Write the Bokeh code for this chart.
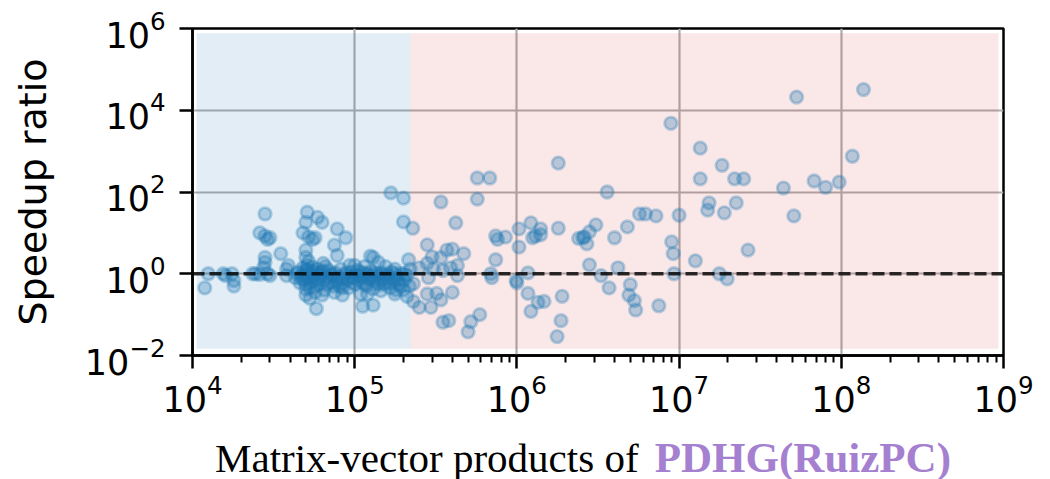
from bokeh.plotting import figure
from bokeh.models import FixedTicker, LogTickFormatter, Span, ColumnDataSource, Div
from bokeh.layouts import column
from bokeh.embed import file_html
from bokeh.resources import INLINE

# ---- data: matrix-vector products (x) and speedup ratio (y) ----
x_high = [5.3e7, 1.37e8, 8.9e6, 1.35e7, 1.84e7, 1.35e7, 2.2e7, 2.5e7, 4.4e7, 6.8e7,
          8.0e7, 9.7e7, 1.17e8, 1.53e7, 1.5e7, 1.9e7, 2.25e7, 5.1e7, 7.2e6, 1.0e7,
          9.0e6, 9.2e6, 1.26e7, 2.66e7, 9.3e6, 1.77e7, 1.98e7, 7.5e6]
y_high = [2.1e4, 3.2e4, 4.8e3, 1.18e3, 4.5e2, 2.1e2, 2.1e2, 2.1e2, 1.25e2, 1.86e2,
          1.3e2, 1.75e2, 7.5e2, 54, 36, 31, 54, 26, 26, 27,
          6.0, 3.1, 2.07, 3.8, 1.0, 1.0, 0.75, 0.165]

x_mid = [1.8e6, 5.7e5, 6.8e5, 3.6e6, 5.7e5, 3.4e5, 2.0e5, 2.0e5, 2.28e5, 4.2e5,
         1.03e6, 1.22e6, 1.4e6, 1.8e6, 1.3e6, 1.25e6, 1.4e6, 3.07e6, 2.8e6, 2.6e6,
         2.4e6, 2.7e6, 2.55e6, 4.8e6, 4.0e6, 5.7e6, 6.2e6, 7.4e5, 7.6e5, 8.5e5,
         1.03e6, 2.8e5, 7.4e5, 4.7e5, 3.7e5, 4.0e5, 3.4e5, 3.0e5, 2.15e5, 4.3e5,
         3.9e5, 2.5e5, 2.8e5, 3.05e5, 3.5e5, 6.9e5, 7.0e5, 1.17e6, 9.9e5, 1.0e6,
         2.3e5, 2.85e5, 4.3e5, 3.3e6, 4.2e6, 2.8e6, 3.7e6, 5.0e6, 4.9e6, 5.3e6,
         5.4e6, 1.17e6, 1.35e6, 1.47e6, 1.22e6, 1.9e6, 1.87e6, 1.77e6, 2.3e5, 2.5e5,
         2.95e5, 2.8e5, 3.2e5, 3.4e5, 4.0e5, 3.5e5, 3.8e5, 5.2e5, 5.9e5, 5.0e5]
y_mid = [5.1e2, 2.2e2, 2.2e2, 1.0e2, 67, 57, 71, 18.5, 13, 17.6,
         12.5, 17.6, 12.5, 13, 8.4, 7.6, 9.0, 15.7, 10.6, 8.0,
         7.3, 5.4, 7.6, 14, 7.6, 29, 29, 8.4, 6.9, 7.9,
         4.5, 5.1, 2.2, 3.1, 3.8, 4.0, 2.5, 2.6, 2.2, 1.6,
         1.4, 1.4, 1.8, 1.3, 1.2, 1.0, 0.8, 1.05, 0.68, 0.6,
         0.57, 0.8, 0.9, 0.9, 1.4, 1.65, 0.45, 0.54, 0.3, 0.22,
         0.13, 0.33, 0.2, 0.21, 0.12, 0.28, 0.071, 0.029, 0.21, 0.15,
         0.15, 0.32, 0.33, 0.23, 0.35, 0.065, 0.071, 0.067, 0.10, 0.038]

x_low = [1.67e5, 2.8e4, 2.6e4, 2.8e4, 2.9e4, 3.0e4, 2.8e4, 2.8e4, 2.75e4, 3.5e4,
         3.9e4, 3.8e4, 5.1e4, 5.0e4, 4.8e4, 5.2e4, 5.7e4, 5.9e4, 6.3e4, 5.0e4,
         5.0e4, 6.4e4, 7.8e4, 8.8e4, 7.5e4, 7.8e4, 5.0e4, 5.8e4, 1.12e5, 1.3e5,
         1.3e5, 1.4e5, 1.19e4, 1.25e4, 1.55e4, 1.75e4, 1.8e4, 1.8e4, 2.35e4, 2.9e4,
         3.8e4, 5.0e4, 8.4e4, 1.09e5, 1.77e5, 1.8e5, 1.6e4, 2.45e4, 2.6e4, 3.0e4,
         5.5e4, 1.25e5, 1.0e5, 1.77e5, 1.3e5, 8.4e4]
y_low = [95, 29, 10, 8.4, 6.9, 7.6, 2.5, 1.9, 1.4, 3.1,
         1.6, 0.9, 32, 18, 10, 8.0, 7.6, 24, 18, 3.8,
         2.5, 1.8, 12.5, 7.6, 5.0, 2.8, 0.3, 0.14, 0.16, 0.17,
         2.5, 1.9, 0.45, 1.0, 1.0, 1.0, 0.68, 0.5, 1.0, 1.0,
         1.3, 0.42, 0.3, 0.32, 0.32, 0.4, 0.9, 1.0, 0.96, 0.9,
         6.9, 2.7, 1.6, 1.3, 0.43, 0.45]

x_band = [4.3e4, 4.5e4, 4.6e4, 4.7e4, 4.8e4, 4.9e4, 5.0e4, 5.0e4, 5.1e4, 5.2e4,
          5.3e4, 5.4e4, 5.5e4, 5.6e4, 5.7e4, 5.8e4, 5.9e4, 6.0e4, 6.1e4, 6.2e4,
          6.4e4, 6.5e4, 6.7e4, 6.9e4, 7.0e4, 7.2e4, 7.4e4, 7.6e4, 7.8e4, 8.0e4,
          8.2e4, 8.5e4, 8.7e4, 9.0e4, 9.2e4, 9.5e4, 9.8e4, 1.01e5, 1.04e5, 1.07e5,
          1.1e5, 1.14e5, 1.18e5, 1.22e5, 1.26e5, 1.3e5, 1.35e5, 1.4e5, 1.45e5, 1.5e5,
          1.55e5, 1.6e5, 1.65e5, 1.7e5, 1.75e5, 1.82e5, 1.88e5, 1.95e5, 2.02e5, 2.1e5,
          2.17e5, 1.55e5, 1.15e5, 9.3e4, 6.6e4, 5.3e4, 6.3e4, 7.5e4, 1.2e5, 1.45e5,
          2.0e5, 2.2e5, 5.2e4, 5.0e4, 5.5e4, 2.1e5]
y_band = [0.8, 1.1, 0.6, 0.9, 1.4, 0.7, 1.0, 0.55, 1.6, 0.8,
          0.45, 1.2, 0.65, 0.95, 0.35, 0.75, 1.3, 0.55, 0.9, 1.1,
          0.65, 0.4, 0.85, 1.2, 0.6, 0.9, 0.5, 1.05, 0.7, 0.85,
          1.3, 0.6, 0.95, 0.7, 0.45, 1.1, 0.8, 0.55, 1.2, 0.9,
          0.65, 1.0, 0.5, 0.8, 1.15, 0.7, 0.9, 0.55, 1.05, 0.75,
          0.6, 0.9, 0.45, 1.1, 0.7, 0.85, 0.55, 1.0, 0.7, 0.9,
          0.5, 1.5, 1.5, 1.6, 1.5, 0.25, 0.3, 0.35, 0.32, 0.38,
          0.4, 1.3, 2.0, 1.25, 1.45, 0.28]

x_band2 = [4.4e4, 4.7e4, 5.0e4, 5.1e4, 5.3e4, 5.5e4, 5.6e4, 5.8e4, 6.0e4, 6.2e4,
           6.4e4, 6.8e4, 7.1e4, 7.3e4, 7.7e4, 8.1e4, 8.4e4, 8.9e4, 9.4e4, 9.7e4,
           1.02e5, 1.06e5, 1.09e5, 1.12e5, 1.16e5, 1.2e5, 1.24e5, 1.28e5, 1.33e5, 1.37e5,
           1.42e5, 1.47e5, 1.52e5, 1.58e5, 1.63e5, 1.68e5, 1.78e5, 1.85e5, 1.92e5, 2.05e5]
y_band2 = [1.0, 0.75, 0.85, 1.2, 0.6, 0.9, 1.1, 0.5, 0.75, 0.95,
           1.15, 0.55, 0.8, 1.0, 0.6, 0.5, 0.75, 1.05, 0.85, 0.6,
           0.9, 0.7, 1.1, 0.8, 0.55, 1.0, 0.7, 0.9, 1.05, 0.6,
           0.8, 0.95, 0.55, 1.0, 0.75, 0.6, 1.0, 0.75, 0.5, 1.0]

x_tick_values = [1e4, 1e5, 1e6, 1e7, 1e8, 1e9]
y_tick_values = [1e-2, 1e0, 1e2, 1e4, 1e6]
split_x = 2.21e5          # boundary between the two shaded regions
baseline_y = 1.0          # speedup ratio of 1
x_label_text = "Matrix-vector products of"
x_label_method = "PDHG(RuizPC)"

xs = x_high + x_mid + x_low + x_band + x_band2
ys = y_high + y_mid + y_low + y_band + y_band2
src = ColumnDataSource(data=dict(x=xs, y=ys))

p = figure(x_axis_type="log", y_axis_type="log",
           x_range=(1e4, 1e9), y_range=(1e-2, 1e6),
           frame_width=811, frame_height=327,
           min_border_left=192, min_border_right=47,
           min_border_top=28, min_border_bottom=70,
           output_backend="svg", toolbar_location=None,
           background_fill_color="white", border_fill_color="white")

# shaded regions
p.quad(left=[1.06e4, split_x], right=[split_x, 9.3e8],
       bottom=[0.0146, 0.0146], top=[7.6e5, 7.6e5],
       fill_color=["#1f77b4", "#d62728"], fill_alpha=[0.13, 0.11], line_color=None)

p.scatter("x", "y", source=src, size=12.5, marker="circle",
          fill_color="#1f77b4", fill_alpha=0.3,
          line_color="#1f77b4", line_alpha=0.3, line_width=2.8)

p.add_layout(Span(location=baseline_y, dimension="width", line_color="black",
                  line_alpha=0.8, line_width=3.5, line_dash="12 5"))

minor = [m * 10 ** k for k in range(4, 9) for m in range(2, 10)]
xt = FixedTicker(ticks=x_tick_values, minor_ticks=minor)
yt = FixedTicker(ticks=y_tick_values, minor_ticks=[])
p.xaxis.ticker = xt
p.yaxis.ticker = yt
p.xgrid.ticker = xt
p.ygrid.ticker = yt
p.xaxis.formatter = LogTickFormatter()
p.yaxis.formatter = LogTickFormatter()

for g in (p.xgrid, p.ygrid):
    g.grid_line_color = "#adadad"
    g.grid_line_width = 2.2
    g.minor_grid_line_color = None

for ax in (p.xaxis, p.yaxis):
    ax.axis_line_width = 2.5
    ax.axis_line_color = "black"
    ax.major_tick_line_width = 2.5
    ax.major_tick_line_color = "black"
    ax.minor_tick_line_width = 2
    ax.minor_tick_line_color = "black"
    ax.major_tick_out = 13
    ax.major_tick_in = 0
    ax.minor_tick_out = 7
    ax.minor_tick_in = 0
    ax.major_label_text_font = "DejaVu Sans"
    ax.major_label_text_font_size = "35px"
    ax.major_label_text_color = "black"

p.xaxis.major_label_standoff = 5
p.yaxis.major_label_standoff = 14

p.yaxis.axis_label = "Speedup ratio"
p.yaxis.axis_label_text_font = "DejaVu Sans"
p.yaxis.axis_label_text_font_size = "38px"
p.yaxis.axis_label_text_font_style = "normal"
p.yaxis.axis_label_text_color = "black"
p.yaxis.axis_label_standoff = 27

p.outline_line_color = "black"
p.outline_line_width = 2.5
p.outline_line_alpha = 1.0

label_html = (
    '<div style="position:relative; left:215px; top:10px; white-space:nowrap; '
    "font-family:'Liberation Serif', serif; font-size:41px; line-height:46px; color:black;\">"
    f'{x_label_text} '
    '<span style="color:#a580d0; font-weight:bold; font-size:43px; margin-left:6px;">'
    f'{x_label_method}</span></div>'
)
div = Div(text=label_html, width=1050, height=54, margin=0)

layout = column(p, div, spacing=0)

open("out.html", "w").write(file_html(layout, INLINE))
